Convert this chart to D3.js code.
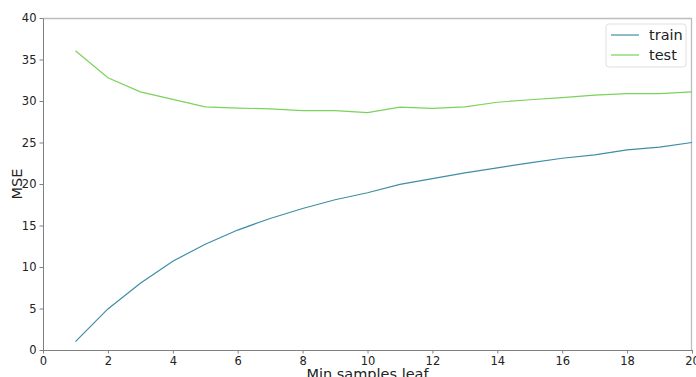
<html>
<head>
<script src="https://d3js.org/d3.v7.min.js"></script>
<style>
  body { margin: 0; background: white; }
  text { font-family: "DejaVu Sans", sans-serif; fill: #222; }
  .axis .domain { stroke: #808080; }
  .axis .tick line { stroke: #808080; }
  .axis .tick text { font-size: 11.5px; fill: #222; }
</style>
</head>
<body>
<svg class="chart"></svg>
<script>
  // min_samples_leaf values and the two error curves
  var leaf = [1,2,3,4,5,6,7,8,9,10,11,12,13,14,15,16,17,18,19,20];
  var train = [1.0,4.95,8.05,10.7,12.75,14.45,15.85,17.05,18.1,18.95,
               19.95,20.65,21.35,21.95,22.55,23.1,23.5,24.1,24.45,25.0];
  var test = [36.05,32.8,31.1,30.2,29.3,29.15,29.05,28.85,28.85,28.6,
              29.25,29.1,29.3,29.85,30.15,30.4,30.7,30.9,30.9,31.1];
  var xTicks = [0,2,4,6,8,10,12,14,16,18,20];
  var yTicks = [0,5,10,15,20,25,30,35,40];

  var width = 696;
  var height = 377;
  var padLeft = 43, padRight = 692, padTop = 18, padBottom = 350;

  var chart = d3.select(".chart")
    .attr("width", width)
    .attr("height", height);

  var x = d3.scaleLinear().domain([0, 20]).range([padLeft, padRight]);
  var y = d3.scaleLinear().domain([0, 40]).range([padBottom, padTop]);

  // frame: light top/right
  chart.append("line")
    .attr("x1", padLeft).attr("x2", padRight).attr("y1", padTop + 0.5).attr("y2", padTop + 0.5)
    .attr("stroke", "#bdbdbd").attr("stroke-width", 1.3);
  chart.append("line")
    .attr("x1", padRight - 0.5).attr("x2", padRight - 0.5).attr("y1", padTop).attr("y2", padBottom)
    .attr("stroke", "#bdbdbd").attr("stroke-width", 1.3);

  chart.append("g")
    .attr("class", "axis")
    .attr("transform", "translate(0," + padBottom + ")")
    .call(d3.axisBottom(x).tickValues(xTicks).tickSize(3.5).tickPadding(3).tickSizeOuter(0));

  chart.append("g")
    .attr("class", "axis")
    .attr("transform", "translate(" + padLeft + ",0)")
    .call(d3.axisLeft(y).tickValues(yTicks).tickSize(3.5).tickPadding(3).tickSizeOuter(0));

  var line = function(vals) {
    return d3.line()
      .x(function(d, i) { return x(leaf[i]); })
      .y(function(d) { return y(d); })(vals);
  };

  chart.append("path")
    .attr("d", line(train))
    .attr("fill", "none")
    .attr("stroke", "#3f8ea5")
    .attr("stroke-width", 1.2);

  chart.append("path")
    .attr("d", line(test))
    .attr("fill", "none")
    .attr("stroke", "#7bd25c")
    .attr("stroke-width", 1.2);

  // axis labels
  chart.append("text")
    .attr("x", (padLeft + padRight) / 2)
    .attr("y", 379)
    .attr("text-anchor", "middle")
    .style("font-size", "14.5px")
    .text("Min samples leaf");

  chart.append("text")
    .attr("transform", "translate(22," + ((padTop + padBottom) / 2) + ") rotate(-90)")
    .attr("text-anchor", "middle")
    .style("font-size", "14.5px")
    .text("MSE");

  // legend
  var legend = chart.append("g").attr("transform", "translate(606,24)");
  legend.append("rect")
    .attr("width", 80).attr("height", 43)
    .attr("rx", 3)
    .attr("fill", "white")
    .attr("stroke", "#e0e0e0");
  var items = [{name: "train", color: "#3f8ea5"}, {name: "test", color: "#7bd25c"}];
  items.forEach(function(it, i) {
    legend.append("line")
      .attr("x1", 5).attr("x2", 33)
      .attr("y1", 11 + i * 20).attr("y2", 11 + i * 20)
      .attr("stroke", it.color).attr("stroke-width", 1.2);
    legend.append("text")
      .attr("x", 43).attr("y", 16 + i * 20)
      .style("font-size", "14.5px")
      .text(it.name);
  });
</script>
</body>
</html>
